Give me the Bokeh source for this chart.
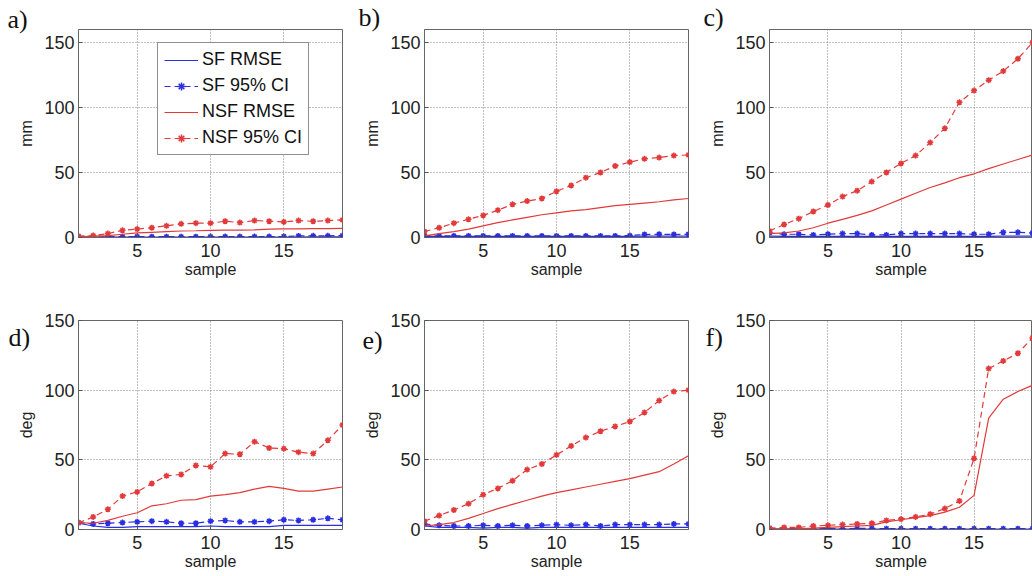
from bokeh.plotting import figure
from bokeh.layouts import column, row
from bokeh.models import Range1d, FixedTicker, Label, Legend, LegendItem
from bokeh.embed import file_html
from bokeh.resources import INLINE

samples = list(range(1, 20))
x_ticks = [5, 10, 15]
y_ticks = [0, 50, 100, 150]
series_names = ["SF RMSE", "SF 95% CI", "NSF RMSE", "NSF 95% CI"]
panel_letters = ["a)", "b)", "c)", "d)", "e)", "f)"]
y_labels = ["mm", "mm", "mm", "deg", "deg", "deg"]

# panel a (mm)
a_sf_rmse = [0.3, 0.3, 0.3, 0.3, 0.3, 0.3, 0.3, 0.3, 0.3, 0.3, 0.3, 0.3, 0.3, 0.3, 0.4, 0.4, 0.5, 0.5, 0.5]
a_sf_ci = [0.5, 0.5, 0.6, 0.6, 0.7, 0.6, 0.6, 0.6, 0.6, 0.7, 0.7, 0.7, 0.7, 0.7, 0.8, 1.2, 1.3, 1.3, 1.5]
a_nsf_rmse = [0.5, 1.0, 1.5, 2.5, 3.5, 4.0, 4.5, 5.0, 5.2, 5.5, 5.6, 5.7, 5.8, 6.5, 6.6, 6.7, 6.8, 6.9, 7.0]
a_nsf_ci = [1.0, 1.5, 3.0, 5.5, 6.5, 7.5, 9.0, 10.5, 11.0, 11.0, 12.5, 11.5, 13.0, 12.5, 12.0, 13.0, 12.5, 13.0, 13.5]

# panel b (mm)
b_sf_rmse = [0.8, 0.8, 0.8, 0.8, 0.8, 0.8, 0.8, 0.8, 0.8, 0.8, 0.8, 0.8, 0.8, 0.8, 0.9, 1.0, 1.0, 1.0, 1.0]
b_sf_ci = [1.5, 1.2, 1.2, 1.2, 1.2, 1.2, 1.2, 1.2, 1.2, 1.2, 1.2, 1.2, 1.2, 1.2, 1.5, 2.3, 2.5, 2.3, 2.5]
b_nsf_rmse = [1.3, 3.0, 4.5, 6.5, 9.0, 11.5, 13.5, 15.5, 17.5, 19.0, 20.5, 21.5, 23.0, 24.5, 25.5, 26.5, 27.5, 29.0, 30.0]
b_nsf_ci = [4.6, 7.5, 11.0, 14.0, 17.0, 21.0, 25.5, 28.0, 30.0, 35.5, 40.0, 46.0, 50.0, 55.0, 58.0, 60.5, 61.5, 63.0, 63.5]

# panel c (mm)
c_sf_rmse = [1.0, 0.9, 0.9, 0.9, 0.9, 0.9, 0.9, 0.9, 0.9, 0.9, 0.9, 0.9, 0.9, 0.9, 0.9, 0.9, 1.0, 1.0, 1.0]
c_sf_ci = [3.5, 2.5, 2.5, 2.0, 2.5, 3.0, 3.0, 2.0, 2.0, 3.0, 3.0, 3.0, 3.0, 3.0, 2.5, 2.5, 4.0, 4.0, 3.5]
c_nsf_rmse = [3.0, 3.5, 5.0, 7.5, 11.0, 14.0, 17.0, 20.5, 25.0, 29.5, 34.0, 38.5, 42.0, 46.0, 49.0, 53.0, 56.5, 60.0, 63.5]
c_nsf_ci = [5.0, 10.0, 14.5, 20.0, 25.0, 31.5, 36.0, 43.0, 50.0, 57.0, 63.0, 73.0, 84.0, 104.0, 113.0, 121.0, 128.0, 137.5, 150.0]

# panel d (deg)
d_sf_rmse = [4.5, 2.5, 1.5, 1.5, 2.0, 2.0, 2.0, 2.0, 2.0, 2.5, 2.0, 2.0, 2.0, 2.0, 3.0, 3.0, 3.0, 3.0, 3.0]
d_sf_ci = [5.0, 4.0, 4.5, 5.0, 5.5, 6.0, 5.5, 4.5, 4.5, 6.0, 6.5, 5.5, 5.5, 6.0, 7.0, 6.5, 7.0, 8.0, 7.0]
d_nsf_rmse = [5.0, 4.5, 6.5, 9.5, 12.0, 17.0, 18.5, 21.0, 21.5, 24.0, 25.0, 26.5, 29.0, 31.0, 29.5, 27.5, 27.5, 29.0, 30.5]
d_nsf_ci = [4.8, 9.0, 14.5, 24.0, 27.0, 33.0, 38.5, 39.5, 46.0, 45.0, 54.5, 54.0, 63.0, 58.5, 58.0, 55.5, 54.5, 64.0, 75.0]

# panel e (deg)
e_sf_rmse = [2.5, 1.5, 1.5, 1.5, 1.0, 1.5, 1.5, 1.0, 1.5, 1.5, 1.5, 1.5, 1.5, 1.5, 1.5, 1.5, 1.5, 1.5, 1.5]
e_sf_ci = [4.0, 3.0, 2.5, 2.5, 3.0, 2.5, 3.0, 2.5, 3.0, 3.5, 3.0, 3.5, 2.5, 3.5, 3.5, 3.5, 3.5, 4.0, 4.0]
e_nsf_rmse = [2.5, 3.5, 5.0, 8.0, 11.5, 15.0, 18.0, 21.0, 24.0, 26.5, 28.5, 30.5, 32.5, 34.5, 36.5, 39.0, 41.5, 47.0, 53.0]
e_nsf_ci = [6.0, 10.0, 14.0, 18.5, 25.0, 29.5, 35.0, 43.0, 47.0, 53.5, 60.0, 66.0, 70.5, 74.0, 77.5, 84.0, 92.5, 99.0, 100.0]

# panel f (deg)
f_sf_rmse = [0.3, 0.3, 0.3, 0.3, 0.3, 0.3, 0.3, 0.3, 0.3, 0.3, 0.3, 0.3, 0.3, 0.3, 0.3, 0.3, 0.3, 0.3, 0.3]
f_sf_ci = [0.8, 0.6, 0.6, 0.6, 0.6, 0.6, 0.8, 0.8, 0.6, 0.6, 0.6, 0.6, 0.6, 0.6, 0.6, 0.6, 0.6, 0.6, 0.6]
f_nsf_rmse = [0.5, 0.5, 0.5, 1.0, 1.5, 2.0, 2.5, 3.0, 5.5, 7.0, 8.5, 10.0, 12.5, 16.0, 24.5, 80.0, 93.5, 99.0, 103.5]
f_nsf_ci = [1.0, 1.5, 1.5, 2.5, 3.0, 3.5, 4.0, 4.5, 6.5, 7.5, 9.0, 11.0, 15.0, 20.5, 51.0, 115.5, 121.0, 126.5, 137.5]

BLUE = "#2a2ee0"
RED = "#e23a3a"
FONT = "Liberation Sans"
X_MIN, X_MAX = 1, 19


def make_panel(letter, ylabel, ymax, sf_rmse, sf_ci, nsf_rmse, nsf_ci,
               b_left, b_right, fw, b_top, fh, b_bottom, lx, ly, legend=False):
    p = figure(frame_width=fw, frame_height=fh,
               x_range=Range1d(X_MIN, X_MAX), y_range=Range1d(0, ymax),
               output_backend="svg", toolbar_location=None,
               min_border_left=b_left, min_border_right=b_right,
               min_border_top=b_top, min_border_bottom=b_bottom,
               background_fill_color="white", border_fill_color="white")
    p.outline_line_color = "#666666"
    p.outline_line_width = 1
    for ax in (p.xaxis[0], p.yaxis[0]):
        ax.axis_line_color = "#666666"
        ax.major_tick_line_color = "#555555"
        ax.major_tick_in = 4
        ax.major_tick_out = 0
        ax.minor_tick_line_color = None
        ax.major_label_text_font = FONT
        ax.major_label_text_font_size = "18px"
        ax.major_label_text_color = "#222222"
        ax.axis_label_text_font = FONT
        ax.axis_label_text_font_size = "16px"
        ax.axis_label_text_font_style = "normal"
        ax.axis_label_text_color = "#222222"
    p.xaxis.ticker = FixedTicker(ticks=x_ticks)
    p.yaxis.ticker = FixedTicker(ticks=y_ticks)
    p.xaxis.axis_label = "sample"
    p.yaxis.axis_label = ylabel
    p.xaxis.major_label_standoff = 6
    p.yaxis.major_label_standoff = 4
    p.xaxis.axis_label_standoff = 1
    p.yaxis.axis_label_standoff = 6
    p.grid.grid_line_color = "#808080"
    p.grid.grid_line_dash = "1 2"
    p.grid.grid_line_width = 1

    r1 = p.line(samples, sf_rmse, line_color=BLUE, line_width=1.2)
    r2 = p.line(samples, sf_ci, line_color=BLUE, line_width=1.2, line_dash="6 4")
    r2m = p.scatter(samples, sf_ci, marker="asterisk", size=6, line_color=BLUE, line_width=1.5)
    r3 = p.line(samples, nsf_rmse, line_color=RED, line_width=1.2)
    r4 = p.line(samples, nsf_ci, line_color=RED, line_width=1.2, line_dash="6 4")
    r4m = p.scatter(samples, nsf_ci, marker="asterisk", size=6, line_color=RED, line_width=1.5)

    # panel letter in the "above" side panel (not clipped), offset into the left border
    p.add_layout(Label(x=lx, y=ly, x_units="screen", y_units="screen", text=letter,
                       text_font="Liberation Serif", text_font_size="26px",
                       text_color="#111111", text_baseline="alphabetic"), "above")

    if legend:
        items = [LegendItem(label=series_names[0], renderers=[r1]),
                 LegendItem(label=series_names[1], renderers=[r2, r2m]),
                 LegendItem(label=series_names[2], renderers=[r3]),
                 LegendItem(label=series_names[3], renderers=[r4, r4m])]
        lg = Legend(items=items, location=(79, 82), glyph_width=34, glyph_height=20,
                    label_height=20, spacing=5, padding=6, margin=0, label_standoff=4,
                    label_text_font=FONT, label_text_font_size="18px",
                    label_text_color="#111111",
                    border_line_color="#222222", border_line_width=1,
                    background_fill_color="white", background_fill_alpha=1)
        p.add_layout(lg, "center")
    return p


pa = make_panel(panel_letters[0], y_labels[0], 160, a_sf_rmse, a_sf_ci, a_nsf_rmse, a_nsf_ci,
                78, 3, 264, 28, 208, 54, -71, 10, legend=True)
pb = make_panel(panel_letters[1], y_labels[1], 160, b_sf_rmse, b_sf_ci, b_nsf_rmse, b_nsf_ci,
                79, 2, 264, 28, 208, 54, -66, 12)
pc = make_panel(panel_letters[2], y_labels[2], 160, c_sf_rmse, c_sf_ci, c_nsf_rmse, c_nsf_ci,
                79, 0, 263, 28, 208, 54, -66, 12)
pd = make_panel(panel_letters[3], y_labels[3], 150, d_sf_rmse, d_sf_ci, d_nsf_rmse, d_nsf_ci,
                78, 3, 264, 28, 209, 49, -70, -17)
pe = make_panel(panel_letters[4], y_labels[4], 150, e_sf_rmse, e_sf_ci, e_nsf_rmse, e_nsf_ci,
                79, 2, 264, 28, 209, 49, -62, -20)
pf = make_panel(panel_letters[5], y_labels[5], 150, f_sf_rmse, f_sf_ci, f_nsf_rmse, f_nsf_ci,
                79, 0, 263, 28, 209, 49, -64, -17)

layout = column(row(pa, pb, pc, spacing=0), row(pd, pe, pf, spacing=0), spacing=0)

open("out.html", "w").write(file_html(layout, INLINE))
